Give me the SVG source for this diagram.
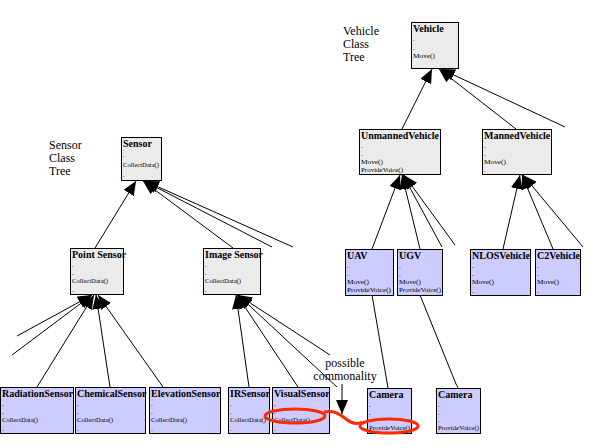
<svg xmlns="http://www.w3.org/2000/svg" width="598" height="448" viewBox="0 0 598 448">
<style>
.bg{fill:#ffffff}
.g rect{fill:#ebebeb;stroke:#000;stroke-width:1}
.l rect{fill:#ccccff;stroke:#000;stroke-width:1}
.t{font-family:"Liberation Serif",serif;font-weight:bold;font-size:10px;fill:#000}
.s{font-family:"Liberation Serif",serif;font-size:6.5px;fill:#000}
.lbl{font-family:"Liberation Serif",serif;font-size:12px;fill:#000}
.c line,.c path.ln{stroke:#000;stroke-width:1;fill:none}
.red{stroke:#ff2a00;stroke-width:3;fill:none}
</style>
<defs>
<marker id="ah" markerUnits="userSpaceOnUse" markerWidth="15" markerHeight="12" refX="14" refY="6" orient="auto">
<path d="M0,0 L14,6 L0,12 z" fill="#000"/>
</marker>
</defs>
<rect class="bg" x="0" y="0" width="598" height="448"/>

<g id="labels">
<text class="lbl" x="343" y="35">Vehicle</text>
<text class="lbl" x="343" y="48">Class</text>
<text class="lbl" x="343" y="61">Tree</text>
<text class="lbl" x="49" y="149">Sensor</text>
<text class="lbl" x="49" y="162">Class</text>
<text class="lbl" x="49" y="175">Tree</text>
<text class="lbl" x="345" y="367" text-anchor="middle">possible</text>
<text class="lbl" x="345" y="380" text-anchor="middle">commonality</text>
</g>

<g id="connectors" class="c">
<line x1="402" y1="129" x2="432" y2="69" marker-end="url(#ah)"/>
<line x1="516" y1="129" x2="439" y2="69" marker-end="url(#ah)"/>
<line x1="565" y1="127" x2="441" y2="69" marker-end="url(#ah)"/>

<line x1="95" y1="248" x2="136" y2="181" marker-end="url(#ah)"/>
<line x1="233" y1="248" x2="143" y2="181" marker-end="url(#ah)"/>
<line x1="272" y1="247" x2="144" y2="181" marker-end="url(#ah)"/>
<line x1="293" y1="247" x2="145" y2="181" marker-end="url(#ah)"/>

<line x1="17" y1="336" x2="92" y2="295" marker-end="url(#ah)"/>
<line x1="12" y1="355" x2="92" y2="295" marker-end="url(#ah)"/>
<line x1="37" y1="387" x2="94" y2="295" marker-end="url(#ah)"/>
<line x1="110" y1="387" x2="96" y2="295" marker-end="url(#ah)"/>
<line x1="163" y1="387" x2="98" y2="295" marker-end="url(#ah)"/>

<line x1="249" y1="387" x2="236" y2="295" marker-end="url(#ah)"/>
<line x1="298" y1="387" x2="237" y2="295" marker-end="url(#ah)"/>
<line x1="330" y1="355" x2="238" y2="295" marker-end="url(#ah)"/>
<line x1="337" y1="387" x2="238" y2="295" marker-end="url(#ah)"/>

<line x1="372" y1="249" x2="400" y2="175" marker-end="url(#ah)"/>
<line x1="420" y1="249" x2="402" y2="175" marker-end="url(#ah)"/>
<line x1="442" y1="247" x2="403" y2="175" marker-end="url(#ah)"/>
<line x1="455" y1="245" x2="404" y2="175" marker-end="url(#ah)"/>

<line x1="503" y1="249" x2="520" y2="175" marker-end="url(#ah)"/>
<line x1="553" y1="249" x2="522" y2="175" marker-end="url(#ah)"/>
<line x1="583" y1="247" x2="523" y2="175" marker-end="url(#ah)"/>

<line x1="372" y1="295" x2="388" y2="388"/>
<path class="ln" d="M420,295 L456,384 Q458,387 458,388"/>

<line x1="342" y1="384" x2="342" y2="414" marker-end="url(#ah)"/>
</g>

<g id="Vehicle" class="g">
<rect x="411.5" y="22.5" width="47" height="46"/>
<text class="t" x="413" y="32">Vehicle</text>
<text class="s" x="413" y="41">.</text>
<text class="s" x="413" y="49.5">.</text>
<text class="s" x="413" y="58" textLength="22" lengthAdjust="spacingAndGlyphs">Move()</text>
</g>

<g id="UnmannedVehicle" class="g">
<rect x="359.5" y="129.5" width="81" height="45"/>
<text class="t" x="361" y="139">UnmannedVehicle</text>
<text class="s" x="361" y="148">.</text>
<text class="s" x="361" y="156">.</text>
<text class="s" x="361" y="164" textLength="22" lengthAdjust="spacingAndGlyphs">Move()</text>
<text class="s" x="361" y="172" textLength="42" lengthAdjust="spacingAndGlyphs">ProvideVoice()</text>
</g>

<g id="MannedVehicle" class="g">
<rect x="482.5" y="129.5" width="69" height="45"/>
<text class="t" x="484" y="139">MannedVehicle</text>
<text class="s" x="484" y="148">.</text>
<text class="s" x="484" y="156">.</text>
<text class="s" x="484" y="164" textLength="22" lengthAdjust="spacingAndGlyphs">Move()</text>
<text class="s" x="484" y="172">.</text>
</g>

<g id="Sensor" class="g">
<rect x="121.5" y="137.5" width="40" height="43"/>
<text class="t" x="123" y="147">Sensor</text>
<text class="s" x="123" y="157">.</text>
<text class="s" x="123" y="167" textLength="36" lengthAdjust="spacingAndGlyphs">CollectData()</text>
<text class="s" x="123" y="177">.</text>
</g>

<g id="PointSensor" class="g">
<rect x="70.5" y="248.5" width="53" height="46"/>
<text class="t" x="72" y="258">Point Sensor</text>
<text class="s" x="72" y="267">.</text>
<text class="s" x="72" y="275">.</text>
<text class="s" x="72" y="283" textLength="36" lengthAdjust="spacingAndGlyphs">CollectData()</text>
<text class="s" x="72" y="292">.</text>
</g>

<g id="ImageSensor" class="g">
<rect x="203.5" y="248.5" width="57" height="46"/>
<text class="t" x="205" y="258">Image Sensor</text>
<text class="s" x="205" y="267">.</text>
<text class="s" x="205" y="275">.</text>
<text class="s" x="205" y="283" textLength="36" lengthAdjust="spacingAndGlyphs">CollectData()</text>
<text class="s" x="205" y="292">.</text>
</g>

<g id="UAV" class="l">
<rect x="345.5" y="249.5" width="48" height="46"/>
<text class="t" x="347" y="259">UAV</text>
<text class="s" x="347" y="268">.</text>
<text class="s" x="347" y="276">.</text>
<text class="s" x="347" y="284" textLength="22" lengthAdjust="spacingAndGlyphs">Move()</text>
<text class="s" x="347" y="292" textLength="44" lengthAdjust="spacingAndGlyphs">ProvideVoice()</text>
</g>

<g id="UGV" class="l">
<rect x="397.5" y="249.5" width="45" height="46"/>
<text class="t" x="399" y="259">UGV</text>
<text class="s" x="399" y="268">.</text>
<text class="s" x="399" y="276">.</text>
<text class="s" x="399" y="284" textLength="22" lengthAdjust="spacingAndGlyphs">Move()</text>
<text class="s" x="399" y="292" textLength="42" lengthAdjust="spacingAndGlyphs">ProvideVoice()</text>
</g>

<g id="NLOSVehicle" class="l">
<rect x="470.5" y="249.5" width="60" height="46"/>
<text class="t" x="472" y="259">NLOSVehicle</text>
<text class="s" x="472" y="268">.</text>
<text class="s" x="472" y="276">.</text>
<text class="s" x="472" y="284" textLength="22" lengthAdjust="spacingAndGlyphs">Move()</text>
<text class="s" x="472" y="293">.</text>
</g>

<g id="C2Vehicle" class="l">
<rect x="535.5" y="249.5" width="45" height="46"/>
<text class="t" x="537" y="259">C2Vehicle</text>
<text class="s" x="537" y="268">.</text>
<text class="s" x="537" y="276">.</text>
<text class="s" x="537" y="284" textLength="22" lengthAdjust="spacingAndGlyphs">Move()</text>
<text class="s" x="537" y="293">.</text>
</g>

<g id="RadiationSensor" class="l">
<rect x="0.5" y="387.5" width="73" height="46"/>
<text class="t" x="2" y="397">RadiationSensor</text>
<text class="s" x="2" y="406">.</text>
<text class="s" x="2" y="414">.</text>
<text class="s" x="2" y="422" textLength="36" lengthAdjust="spacingAndGlyphs">CollectData()</text>
<text class="s" x="2" y="431">.</text>
</g>

<g id="ChemicalSensor" class="l">
<rect x="75.5" y="387.5" width="70" height="46"/>
<text class="t" x="77" y="397">ChemicalSensor</text>
<text class="s" x="77" y="406">.</text>
<text class="s" x="77" y="414">.</text>
<text class="s" x="77" y="422" textLength="36" lengthAdjust="spacingAndGlyphs">CollectData()</text>
<text class="s" x="77" y="431">.</text>
</g>

<g id="ElevationSensor" class="l">
<rect x="149.5" y="387.5" width="71" height="46"/>
<text class="t" x="151" y="397">ElevationSensor</text>
<text class="s" x="151" y="406">.</text>
<text class="s" x="151" y="414">.</text>
<text class="s" x="151" y="422" textLength="36" lengthAdjust="spacingAndGlyphs">CollectData()</text>
<text class="s" x="151" y="431">.</text>
</g>

<g id="IRSensor" class="l">
<rect x="228.5" y="387.5" width="41" height="46"/>
<text class="t" x="230" y="397">IRSensor</text>
<text class="s" x="230" y="406">.</text>
<text class="s" x="230" y="414">.</text>
<text class="s" x="230" y="422" textLength="36" lengthAdjust="spacingAndGlyphs">CollectData()</text>
<text class="s" x="230" y="431">.</text>
</g>

<g id="VisualSensor" class="l">
<rect x="272.5" y="387.5" width="57" height="46"/>
<text class="t" x="274" y="397">VisualSensor</text>
<text class="s" x="274" y="406">.</text>
<text class="s" x="274" y="414">.</text>
<text class="s" x="274" y="422" textLength="36" lengthAdjust="spacingAndGlyphs">CollectData()</text>
<text class="s" x="274" y="431">.</text>
</g>

<g id="Camera1" class="l">
<rect x="367.5" y="388.5" width="44" height="45"/>
<text class="t" x="369" y="398">Camera</text>
<text class="s" x="369" y="407">.</text>
<text class="s" x="369" y="414.5">.</text>
<text class="s" x="369" y="422">.</text>
<text class="s" x="369" y="430" textLength="41" lengthAdjust="spacingAndGlyphs">ProvideVoice()</text>
</g>

<g id="Camera2" class="l">
<rect x="436.5" y="388.5" width="44" height="45"/>
<text class="t" x="438" y="398">Camera</text>
<text class="s" x="438" y="407">.</text>
<text class="s" x="438" y="414.5">.</text>
<text class="s" x="438" y="422">.</text>
<text class="s" x="438" y="430" textLength="41" lengthAdjust="spacingAndGlyphs">ProvideVoice()</text>
</g>

<g id="highlight">
<ellipse class="red" cx="295" cy="416" rx="30" ry="7"/>
<path class="red" d="M324,412 C334,410 340,414 346,419 C352,424 358,424 362,422"/>
<ellipse class="red" cx="389" cy="426" rx="29" ry="7"/>
</g>
</svg>
